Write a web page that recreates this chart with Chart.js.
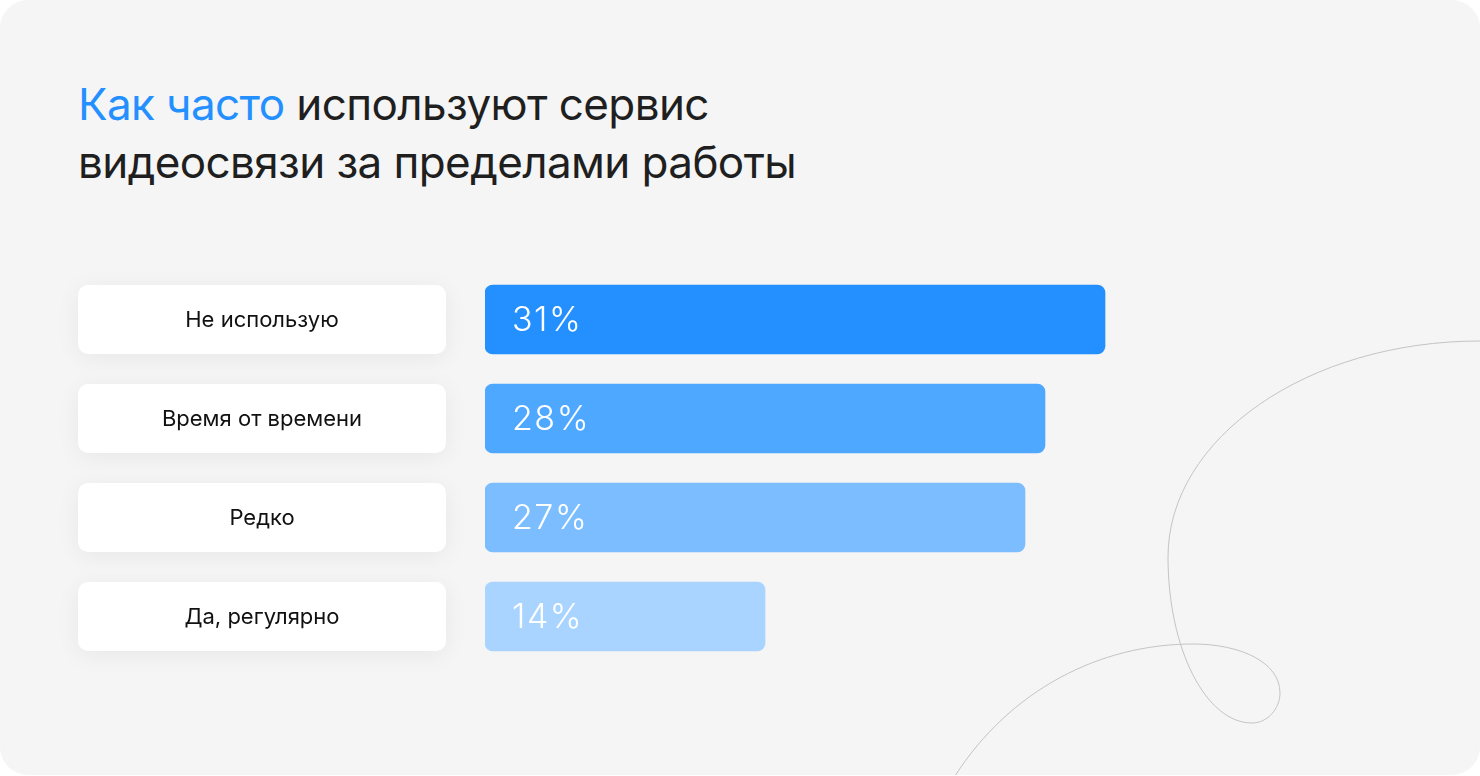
<!DOCTYPE html>
<html lang="ru">
<head>
<meta charset="utf-8">
<script src="https://cdn.jsdelivr.net/npm/chart.js@4"></script>
<style>
  html, body { margin: 0; padding: 0; background: #ffffff; }
  .card {
    position: relative;
    width: 1480px;
    height: 775px;
    background: #f5f5f5;
    border-radius: 28px;
    overflow: hidden;
    font-family: Inter, 'Noto Sans', sans-serif;
  }
  .title {
    position: absolute;
    left: 78px;
    top: 75px;
    font-size: 44px;
    line-height: 58px;
    color: #1f1f1f;
    letter-spacing: -0.6px;
  }
  .title span { color: #2490ff; }
  .deco { position: absolute; left: 0; top: 0; }
  .wrap { position: absolute; left: 0; top: 0; width: 1480px; height: 775px; }
</style>
</head>
<body>
<div class="card">
  <svg class="deco" width="1480" height="776" viewBox="0 0 1480 776">
    <path d="M1480 341 C1308 341 1168 438 1168 557 C1168 649 1206 723 1252 723 C1268 723 1280 708 1280 693 C1280 662 1240 644 1193 644 C1100 644 1010 690 955 776"
          fill="none" stroke="#c4c4c4" stroke-width="1"/>
  </svg>
  <div class="title"><span>Как часто</span> используют сервис<br>видеосвязи за пределами работы</div>
  <div class="wrap"><canvas id="chart"></canvas></div>
</div>
<script>
// Data
const categories = ['Не использую', 'Время от времени', 'Редко', 'Да, регулярно'];
const shares = [31, 28, 27, 14];
const barColors = ['#2490ff', '#4fa8ff', '#7bbdff', '#a8d4ff'];

// White label boxes on the left, positioned from the y scale
const labelBoxes = {
    id: 'labelBoxes',
    beforeDatasetsDraw(chart) {
        const ctx = chart.ctx;
        const meta = chart.getDatasetMeta(0);
        ctx.save();
        meta.data.forEach((bar, i) => {
            const h = bar.height;
            const y = chart.scales.y.getPixelForValue(i);
            const x0 = 78, w = 368;
            ctx.shadowColor = 'rgba(0, 0, 0, 0.06)';
            ctx.shadowBlur = 24;
            ctx.shadowOffsetY = 4;
            ctx.fillStyle = '#ffffff';
            ctx.beginPath();
            ctx.roundRect(x0, y - h / 2, w, h, 10);
            ctx.fill();
            ctx.shadowColor = 'transparent';
            ctx.fillStyle = '#111111';
            ctx.font = '400 22px Inter';
            ctx.textAlign = 'center';
            ctx.textBaseline = 'middle';
            ctx.fillText(categories[i], x0 + w / 2, y + 1);
        });
        ctx.restore();
    },
    afterDatasetsDraw(chart) {
        const ctx = chart.ctx;
        const meta = chart.getDatasetMeta(0);
        ctx.save();
        ctx.fillStyle = '#ffffff';
        ctx.font = '300 34px Inter';
        ctx.letterSpacing = '1.5px';
        ctx.textAlign = 'left';
        ctx.textBaseline = 'middle';
        meta.data.forEach((bar, i) => {
            ctx.fillText(shares[i] + '%', bar.base + 27, bar.y + 1);
        });
        ctx.restore();
    }
};

new Chart(document.getElementById('chart'), {
    type: 'bar',
    data: {
        labels: categories,
        datasets: [{
            data: shares,
            backgroundColor: barColors,
            borderRadius: 8,
            borderSkipped: false,
            barThickness: 69
        }]
    },
    options: {
        indexAxis: 'y',
        responsive: true,
        maintainAspectRatio: false,
        animation: false,
        layout: {
            padding: { left: 485, right: 15, top: 270, bottom: 109 }
        },
        plugins: {
            legend: { display: false },
            tooltip: { enabled: false }
        },
        scales: {
            x: { display: false, min: 0, max: 49 },
            y: { display: false }
        }
    },
    plugins: [labelBoxes]
});
</script>
</body>
</html>
